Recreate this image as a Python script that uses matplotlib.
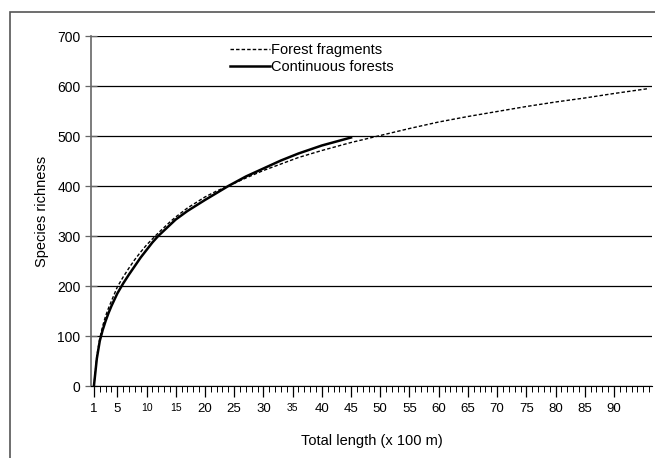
import matplotlib
matplotlib.use("Agg")
import matplotlib.pyplot as plt
from matplotlib.patches import Rectangle

plt.rcParams['font.family'] = ['Liberation Sans', 'DejaVu Sans']

# forest fragments (dotted curve)
frag_x = [1, 1.5, 2, 2.5, 3, 3.5, 4, 5, 6, 7, 8, 9, 10, 11, 12, 13, 14, 15, 17, 20, 22, 24, 27,
          30, 33, 36, 40, 45, 50, 55, 60, 65, 70, 75, 80, 85, 90, 96]
frag_y = [0, 60, 95, 120, 140, 156, 170, 198, 218, 236, 253, 268, 282, 294, 306, 317, 328, 338, 356,
          378, 390, 400, 416, 431, 444, 457, 471, 487, 501, 515, 528, 539, 549, 559, 568, 576, 585, 595]

# continuous forests (solid curve)
cont_x = [1, 1.5, 2, 2.5, 3, 3.5, 4, 5, 6, 7, 8, 9, 10, 11, 12, 13, 14, 15, 17, 20, 22, 24, 27,
          30, 33, 36, 40, 45]
cont_y = [0, 55, 90, 112, 130, 146, 160, 185, 205, 223, 240, 257, 272, 287, 300, 311, 322, 333, 350,
          372, 386, 400, 419, 435, 451, 465, 481, 497]

xlabels = [1, 5, 10, 15, 20, 25, 30, 35, 40, 45, 50, 55, 60, 65, 70, 75, 80, 85, 90]
small_labels = [10, 15, 35]

fig = plt.figure(figsize=(6.55, 4.58), dpi=100)
ax = fig.add_axes([91/655, 1-386/458, (652-91)/655, 350/458])

# outer frame (cut off at right and bottom)
fig.add_artist(Rectangle((10/655, -0.1), 1.2, 1.1-12/458, transform=fig.transFigure,
                         fill=False, edgecolor='#555555', lw=1.2))

ax.plot(frag_x, frag_y, color='black', lw=1, ls=(0, (2.5, 1.5)), label='Forest fragments')
ax.plot(cont_x, cont_y, color='black', lw=1.8, label='Continuous forests')

ax.set_xlim(0.5, 96.5)
ax.set_ylim(0, 700)
ax.set_yticks(range(0, 701, 100))
ax.grid(axis='y', color='black', lw=0.9)
ax.set_axisbelow(True)

ax.set_xticks(xlabels)
ax.set_xticklabels([str(v) for v in xlabels])
for lab, v in zip(ax.get_xticklabels(), xlabels):
    lab.set_fontsize(7.5 if v in small_labels else 9.5)
ax.set_xticks(range(1, 97), minor=True)
ax.tick_params(axis='x', which='major', length=8, width=0.9, pad=4)
ax.tick_params(axis='x', which='minor', length=4, width=0.7)
ax.tick_params(axis='y', direction='inout', length=9, width=0.9, labelsize=10, color='#666666', pad=3)

for s in ['top', 'right']:
    ax.spines[s].set_visible(False)
ax.spines['left'].set_color('#666666')
ax.spines['left'].set_linewidth(1.2)
ax.spines['bottom'].set_color('black')

ax.set_xlabel('Total length (x 100 m)', fontsize=10.5, labelpad=14)
ax.set_ylabel('Species richness', fontsize=10.5, labelpad=6)

ax.legend(loc='upper left', bbox_to_anchor=(0.235, 1.0), frameon=False, fontsize=10.5,
          handlelength=2.7, handletextpad=0.1, labelspacing=0.2, borderaxespad=0.1)

fig.savefig('out.png', dpi=100)
